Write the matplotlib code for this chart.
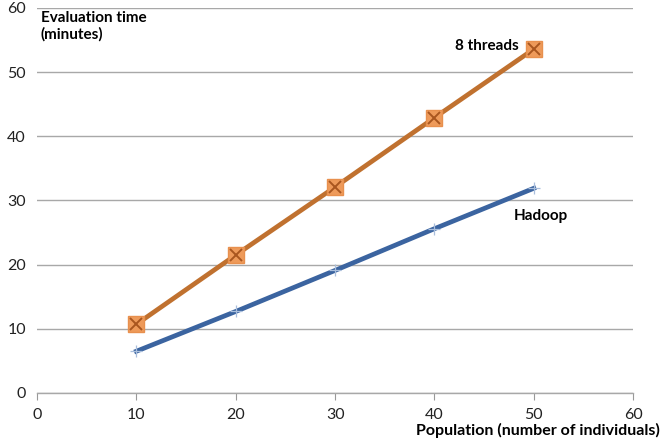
import matplotlib.pyplot as plt

population = [10, 20, 30, 40, 50]
threads8 = [10.7, 21.5, 32.1, 42.9, 53.6]
hadoop = [6.5, 12.7, 19.1, 25.6, 31.9]
x_ticks = [0, 10, 20, 30, 40, 50, 60]
y_ticks = [0, 10, 20, 30, 40, 50, 60]

plt.rcParams["font.family"] = ["Lato", "DejaVu Sans"]

fig = plt.figure(figsize=(6.61, 4.43), dpi=100)
ax = fig.add_axes([0.056, 0.113, 0.902, 0.869])

# orange series: square marker with an x on top
ax.plot(population, threads8, color="#C0712F", linewidth=3.4, zorder=3)
ax.plot(population, threads8, linestyle="none", marker="s", markersize=11,
        markerfacecolor="#EE9A5A", markeredgecolor="#E8904E", zorder=4)
ax.plot(population, threads8, linestyle="none", marker="x", markersize=9,
        markeredgewidth=1.4, color="#A9561F", zorder=5)

# blue series with thin light crosses
ax.plot(population, hadoop, color="#3B64A0", linewidth=3.4, zorder=3)
ax.plot(population, hadoop, linestyle="none", marker="+", markersize=9,
        markeredgewidth=0.9, color="#A9BEDC", zorder=4)

ax.set_xlim(0, 60)
ax.set_ylim(0, 60)
ax.set_xticks(x_ticks)
ax.set_yticks(y_ticks)
ax.tick_params(axis="both", labelsize=11.5, colors="#222222")
ax.tick_params(axis="x", direction="out", length=5, color="#999999", pad=6)
ax.tick_params(axis="y", length=0, pad=8)

ax.grid(axis="y", color="#A8A8A8", linewidth=1.0)
ax.set_axisbelow(True)
for side in ["top", "right", "left"]:
    ax.spines[side].set_visible(False)
ax.spines["bottom"].set_color("#A8A8A8")
ax.spines["bottom"].set_linewidth(1.0)

fig.text(0.062, 0.975, "Evaluation time\n(minutes)", fontsize=11, fontweight="bold",
         va="top", ha="left", linespacing=1.15)
fig.text(0.999, 0.012, "Population (number of individuals)", fontsize=11.5,
         fontweight="bold", ha="right", va="bottom")

ax.text(45.3, 54.0, "8 threads", fontsize=11, fontweight="bold", ha="center", va="center")
ax.text(50.7, 27.6, "Hadoop", fontsize=11, fontweight="bold", ha="center", va="center")

plt.savefig("out.png", dpi=100)
plt.close()
